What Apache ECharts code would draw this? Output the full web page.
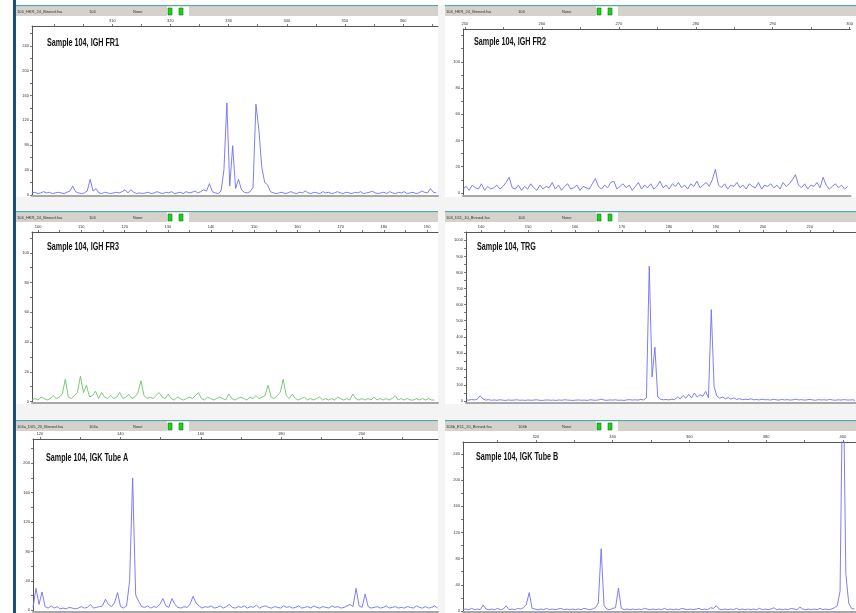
<!DOCTYPE html>
<html><head><meta charset="utf-8">
<script src="https://cdn.jsdelivr.net/npm/echarts@6/dist/echarts.min.js"></script>
<style>html,body{margin:0;padding:0;background:#ffffff;} #c{width:856px;height:613px;}</style>
</head><body><div id="c"></div>
<script>
// ---------------- DATA ----------------
const titles = ['Sample 104, IGH FR1','Sample 104, IGH FR2','Sample 104, IGH FR3','Sample 104, TRG','Sample 104, IGK Tube A','Sample 104, IGK Tube B'];
const fileNames = ['104_HKR_24_Binned.fsa','104_HKR_24_Binned.fsa','104_HKR_24_Binned.fsa','104_D11_10_Binned.fsa','104a_D05_20_Binned.fsa','104b_E11_20_Binned.fsa'];
const sampleIds = ['104','104','104','104','104a','104b'];
const statusTexts = ['None','None','None','None','None','None'];

// size axis (bp): first sample and sample step for each trace
const traceStart = [296.2, 249.75, 98.6, 136.8, 118.3, 301];
const traceStep  = [0.5, 0.4, 0.7, 0.6, 0.75, 0.75];
const xRanges = [[296.2,366],[249.75,300.1],[98.6,192.5],[136.8,219.8],[118.3,218.9],[301,403.4]];
const yRanges = [[-2,272],[-2.3,125],[-1,114],[-12,1052],[-2.3,233],[-1.5,258]];

const fr1Values = [3,4,2,3,5,3,4,2,3,4, 3,2,4,6,14,5,3,2,3,6, 25,6,10,3,2,4,3,2,3,4, 3,5,8,3,8,4,2,3,2,3,
 4,2,3,5,3,2,4,3,5,2, 3,4,2,5,3,4,6,3,5,8, 6,18,5,3,2,6,40,148,14,79, 10,25,8,4,3,5,12,146,105,45,
 20,16,5,3,2,3,4,2,3,5, 3,2,4,3,6,3,2,4,3,2, 5,3,4,2,3,5,3,2,4,3, 2,4,3,5,2,3,4,6,3,2,
 3,4,2,5,3,2,4,3,5,2, 3,4,2,3,6,4,3,10,4,3];
const fr2Values = [3,5,2,6,4,3,7,2,5,3, 4,6,3,5,8,12,4,3,6,2, 5,3,7,4,2,6,3,5,4,8, 3,6,2,5,7,3,4,6,2,5,
 4,3,7,11,5,3,6,4,8,9, 3,5,7,4,6,2,5,8,3,6, 4,7,3,5,9,4,6,3,7,5, 8,4,6,3,7,5,9,4,6,8,
 5,10,18,6,4,7,3,6,5,8, 4,6,3,7,5,4,8,3,6,5, 7,4,6,3,8,5,7,10,14,6, 4,7,3,6,5,8,4,12,6,3, 5,7,4,6,3,5];
const fr3Values = [1,2,1,3,2,1,2,4,2,3, 5,15,3,2,4,6,17,6,11,3, 4,7,2,6,3,2,4,2,3,6, 2,3,5,2,3,6,14,4,2,3,
 2,4,6,3,2,5,2,1,3,2, 1,2,3,2,4,6,2,1,3,2, 1,2,3,2,1,5,2,1,2,3, 2,1,3,2,4,2,3,4,11,3,
 2,4,6,15,4,2,5,2,1,2, 3,1,2,1,2,3,1,2,1,2, 1,3,2,1,2,1,5,2,1,2, 1,2,1,3,1,2,1,2,1,2,
 4,1,2,1,2,1,1,2,1,2, 1,2,1,1];
const trgValues = [8,6,10,7,12,33,14,6,9,5, 7,5,8,6,4,7,5,6,8,5, 6,4,7,5,6,8,5,4,6,7, 5,6,4,7,5,8,6,5,4,6,
 7,5,6,4,8,6,5,7,12,6, 5,7,6,8,5,6,4,7,9,6, 8,6,10,7,20,839,150,335,27,12, 8,10,7,12,9,25,14,35,18,42,
 20,50,25,40,30,60,20,569,90,30, 18,25,15,22,12,20,10,15,8,12, 9,14,8,10,7,12,8,9,6,11, 8,6,10,7,9,6,8,12,7,9,
 6,8,10,7,5,9,7,8,6,10, 7,5,8,6,9,7,6,8,5];
const igkAValues = [4,30,8,25,5,3,6,3,5,2, 3,2,4,3,2,3,5,3,4,8, 3,4,5,6,15,8,5,10,24,5, 3,6,40,180,21,12,5,4,6,3,
 5,4,8,16,6,4,16,8,4,3, 5,4,8,19,10,6,3,5,4,6, 3,4,6,3,5,8,4,3,5,4, 6,3,5,4,7,3,5,6,4,3,
 5,4,3,6,4,5,3,4,6,3, 4,5,3,6,4,3,5,4,3,6, 4,5,3,4,6,8,5,30,6,4, 22,5,3,4,5,3,4,6,3,4,
 5,3,4,3,5,4,3,6,4,3, 5,3,4,6,3];
const igkBValues = [2,3,2,4,2,3,2,9,3,2, 3,2,4,2,3,8,2,3,2,4, 3,5,10,28,4,3,2,3,2,4, 2,3,2,3,4,2,3,2,3,2,
 3,2,4,3,2,3,5,12,95,8, 3,2,4,5,35,4,2,3,2,3, 2,3,2,4,3,2,3,2,3,2, 4,2,3,2,3,2,4,3,2,3,
 2,3,4,2,3,2,5,4,8,3, 2,3,2,3,2,4,2,3,2,3, 2,3,2,4,2,3,2,3,5,2, 3,2,3,2,4,3,2,6,3,2,
 3,2,3,2,4,2,3,2,3,5, 8,30,400,57,12,4,3];
const traces = [fr1Values, fr2Values, fr3Values, trgValues, igkAValues, igkBValues];

// tick marks and tick labels
const xTickValues = [
  [300,305,310,315,320,325,330,335,340,345,350,355,360,365],
  [250,255,260,265,270,275,280,285,290,295,300],
  [100,105,110,115,120,125,130,135,140,145,150,155,160,165,170,175,180,185,190],
  [140,145,150,155,160,165,170,175,180,185,190,195,200,205,210,215],
  [120,130,140,150,160,170,180,190,200,210],
  [310,320,330,340,350,360,370,380,390,400]];
const xLabelValues = [
  [310,320,330,340,350,360],
  [250,260,270,280,290,300],
  [100,110,120,130,140,150,160,170,180,190],
  [140,150,160,170,180,190,200,210],
  [120,140,160,180,200],
  [320,340,360,380,400]];
const yTickValues = [
  [0,20,40,60,80,100,120,140,160,180,200,220,240,260],
  [0,10,20,30,40,50,60,70,80,90,100,110,120],
  [0,10,20,30,40,50,60,70,80,90,100,110],
  [0,50,100,150,200,250,300,350,400,450,500,550,600,650,700,750,800,850,900,950,1000,1050],
  [0,20,40,60,80,100,120,140,160,180,200,220],
  [0,20,40,60,80,100,120,140,160,180,200,220,240]];
const yLabelValues = [
  [0,40,80,120,160,200,240],
  [0,20,40,60,80,100],
  [0,20,40,60,80,100],
  [0,100,200,300,400,500,600,700,800,900,1000],
  [0,40,80,120,160,200],
  [0,40,80,120,160,200,240]];

// ---------------- LAYOUT / STYLE ----------------
const layout = [
  {hx:16,  hy:5,   hw:422, gl:32,  gt:26,  gr:438, gb:196, tx:47,  ty:43},
  {hx:445, hy:5,   hw:411, gl:463, gt:29,  gr:856, gb:196, tx:474, ty:42},
  {hx:16,  hy:211, hw:422, gl:32,  gt:232, gr:438, gb:403, tx:47,  ty:247},
  {hx:445, hy:211, hw:411, gl:466, gt:232, gr:856, gb:403, tx:477, ty:247},
  {hx:16,  hy:420, hw:422, gl:33,  gt:439, gr:438, gb:612, tx:46,  ty:458},
  {hx:445, hy:420, hw:411, gl:463, gt:442, gr:856, gb:612, tx:476, ty:457}];
const lineColors = ['#6f6ff5','#6f6ff5','#6cc46c','#6f6ff5','#6f6ff5','#6f6ff5'];
const tinyFont = 'Liberation Sans, Arial, sans-serif';
const plainLabel = v => String(Math.round(v));

const chart = echarts.init(document.getElementById('c'), null, {renderer:'canvas'});
const grid=[], xAxis=[], yAxis=[], series=[], graphic=[];

// light area of the panel column and blue frame bar on the left
graphic.push({type:'rect', shape:{x:16,y:5,width:840,height:608}, style:{fill:'#f4f4f4'}, z:-11});
graphic.push({type:'rect', shape:{x:13,y:0,width:3,height:613}, style:{fill:'#1d4f7c'}, z:10});

layout.forEach((L,k)=>{
  graphic.push({type:'rect', shape:{x:L.hx, y:L.hy+11, width:L.hw, height:L.gb-L.hy-10}, style:{fill:'#ffffff'}, z:-10});
  graphic.push({type:'rect', shape:{x:L.hx, y:L.hy, width:L.hw, height:1.5}, style:{fill:'#58a6aa'}, z:1});
  graphic.push({type:'rect', shape:{x:L.hx, y:L.hy+1.5, width:L.hw, height:9.5}, style:{fill:'#d5d2cc'}, z:1});
  graphic.push({type:'text', x:L.hx+1, y:L.hy+6.5, style:{text:fileNames[k], fontSize:4, fill:'#333', fontFamily:tinyFont, verticalAlign:'middle'}, z:2});
  graphic.push({type:'text', x:L.hx+73, y:L.hy+6.5, style:{text:sampleIds[k], fontSize:4, fill:'#333', fontFamily:tinyFont, verticalAlign:'middle'}, z:2});
  graphic.push({type:'text', x:L.hx+117, y:L.hy+6.5, style:{text:statusTexts[k], fontSize:4, fill:'#333', fontFamily:tinyFont, verticalAlign:'middle'}, z:2});
  graphic.push({type:'rect', shape:{x:L.hx+151, y:L.hy+1.5, width:22, height:9.5}, style:{fill:'#ffffff'}, z:2});
  graphic.push({type:'rect', shape:{x:L.hx+152, y:L.hy+3, width:4, height:7}, style:{fill:'#22cc22', stroke:'#0c7a0c', lineWidth:0.6}, z:3});
  graphic.push({type:'rect', shape:{x:L.hx+163, y:L.hy+3, width:4, height:7}, style:{fill:'#22cc22', stroke:'#0c7a0c', lineWidth:0.6}, z:3});
  graphic.push({type:'text', x:L.tx, y:L.ty, scaleX:0.72, style:{text:titles[k], fontSize:10, fontWeight:'bold', fill:'#111',
    fontFamily:'Liberation Sans, Arial, sans-serif', verticalAlign:'middle'}, z:5});

  grid.push({left:L.gl, top:L.gt, width:L.gr-L.gl, height:L.gb-L.gt, containLabel:false});
  xAxis.push({type:'value', gridIndex:k, position:'top', min:xRanges[k][0], max:xRanges[k][1],
    axisLine:{show:true, onZero:false, lineStyle:{color:'#555', width:1}},
    axisTick:{show:true, customValues:xTickValues[k], length:2, lineStyle:{color:'#555', width:0.8}},
    axisLabel:{show:true, customValues:xLabelValues[k], formatter:plainLabel, fontSize:4, margin:3, color:'#333', fontFamily:tinyFont},
    splitLine:{show:false}});
  xAxis.push({type:'value', gridIndex:k, position:'bottom', min:xRanges[k][0], max:xRanges[k][1],
    axisLine:{show:true, onZero:false, lineStyle:{color:'#a8a8a8', width:2}},
    axisTick:{show:false}, axisLabel:{show:false}, splitLine:{show:false}});
  yAxis.push({type:'value', gridIndex:k, min:yRanges[k][0], max:yRanges[k][1],
    axisLine:{show:true, onZero:false, lineStyle:{color:'#555', width:1}},
    axisTick:{show:true, customValues:yTickValues[k], length:2, lineStyle:{color:'#555', width:0.8}},
    axisLabel:{show:true, customValues:yLabelValues[k], formatter:plainLabel, fontSize:4, margin:3, color:'#333', fontFamily:tinyFont},
    splitLine:{show:false}});
  series.push({type:'line', xAxisIndex:2*k, yAxisIndex:k, showSymbol:false, clip:true, animation:false,
    lineStyle:{color:lineColors[k], width:0.9},
    data: traces[k].map((v,i)=>[traceStart[k]+traceStep[k]*i, v])});
});

chart.setOption({animation:false, backgroundColor:'#ffffff', grid, xAxis, yAxis, series, graphic});
</script></body></html>
